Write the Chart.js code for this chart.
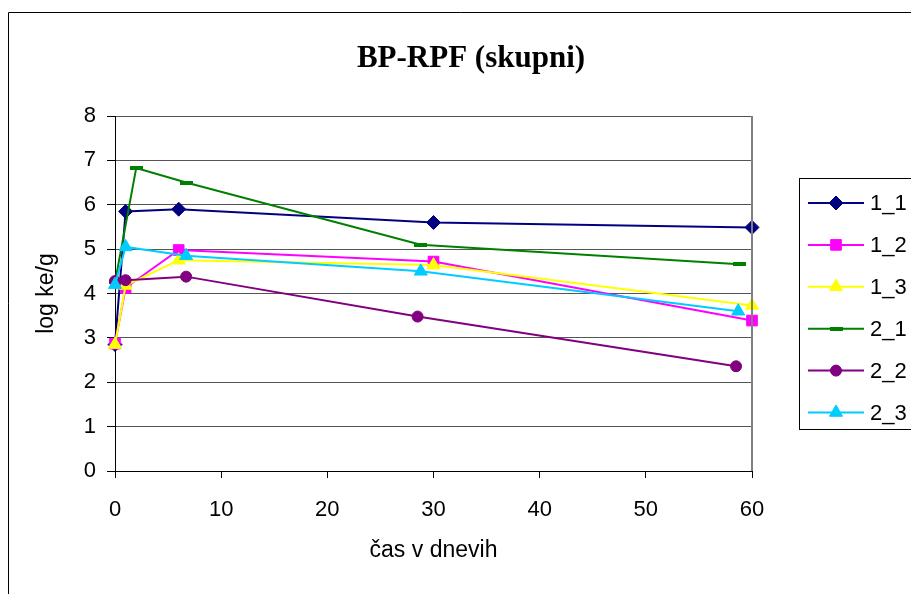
<!DOCTYPE html>
<html><head><meta charset="utf-8">
<script src="https://cdn.jsdelivr.net/npm/chart.js@4/dist/chart.umd.min.js"></script>
<style>html,body{margin:0;padding:0;background:#fff;overflow:hidden}#wrap{width:911px;height:594px;position:relative}</style>
</head><body><div id="wrap"><canvas id="c" width="911" height="594"></canvas></div>
<script>
// ---- data ----
const chartTitle = 'BP-RPF (skupni)';
const xAxisTitle = 'čas v dnevih';
const yAxisTitle = 'log ke/g';
const seriesNames = ['1_1', '1_2', '1_3', '2_1', '2_2', '2_3'];
const days_1_1 = [0, 1, 6, 30, 60];
const days_1_2 = [0, 1, 6, 30, 60];
const days_1_3 = [0, 1, 6, 30, 60];
const days_2_1 = [0, 2, 6.7, 28.8, 58.8];
const days_2_2 = [0, 1, 6.7, 28.5, 58.5];
const days_2_3 = [0, 1, 6.7, 28.8, 58.7];
const vals_1_1 = [2.85, 5.85, 5.9, 5.6, 5.49];
const vals_1_2 = [2.87, 4.13, 4.98, 4.72, 3.39];
const vals_1_3 = [2.85, 4.18, 4.75, 4.64, 3.73];
const vals_2_1 = [4.25, 6.83, 6.5, 5.1, 4.66];
const vals_2_2 = [4.28, 4.3, 4.38, 3.48, 2.36];
const vals_2_3 = [4.2, 5.05, 4.85, 4.5, 3.6];
const xMin = 0, xMax = 60, xStep = 10;
const yMin = 0, yMax = 8, yStep = 1;

// ---- styles ----
const FONT = '"Liberation Sans", Arial, sans-serif';
function dashMarker(color) {
  const c = document.createElement('canvas');
  c.width = 13; c.height = 4;
  const x = c.getContext('2d');
  x.fillStyle = color; x.fillRect(0, 0, 13, 4);
  return c;
}
const seriesDays = [days_1_1, days_1_2, days_1_3, days_2_1, days_2_2, days_2_3];
const seriesVals = [vals_1_1, vals_1_2, vals_1_3, vals_2_1, vals_2_2, vals_2_3];
const styles = [
  { color: '#000080', pointStyle: 'rectRot', radius: 7 },
  { color: '#FF00FF', pointStyle: 'rect', radius: 7.5 },
  { color: '#FFFF00', pointStyle: 'triangle', radius: 7.5 },
  { color: '#008000', pointStyle: dashMarker('#008000'), radius: 6 },
  { color: '#800080', pointStyle: 'circle', radius: 5.5 },
  { color: '#00CCFF', pointStyle: 'triangle', radius: 7.5 }
];

const datasets = seriesNames.map((name, i) => ({
  label: name,
  data: seriesDays[i].map((d, j) => ({ x: d, y: seriesVals[i][j] })),
  borderColor: styles[i].color,
  backgroundColor: styles[i].color,
  pointBackgroundColor: styles[i].color,
  pointBorderColor: styles[i].color,
  pointStyle: styles[i].pointStyle,
  pointRadius: styles[i].radius,
  pointHoverRadius: styles[i].radius,
  pointBorderWidth: 1,
  borderWidth: 2,
  tension: 0,
  clip: false,
  order: seriesNames.length - i
}));

const framePlugin = {
  id: 'frame',
  beforeDraw(chart) {
    const ctx = chart.ctx;
    ctx.save();
    ctx.fillStyle = '#fff';
    ctx.fillRect(0, 0, chart.width, chart.height);
    ctx.strokeStyle = '#000';
    ctx.lineWidth = 1;
    ctx.beginPath();
    ctx.moveTo(8.5, chart.height + 2);
    ctx.lineTo(8.5, 12.5);
    ctx.lineTo(chart.width + 2, 12.5);
    ctx.stroke();
    ctx.restore();
  },
  afterDraw(chart) {
    const ctx = chart.ctx;
    const a = chart.chartArea;
    ctx.save();
    // plot area right border
    ctx.strokeStyle = '#808080';
    ctx.lineWidth = 2;
    ctx.beginPath();
    ctx.moveTo(a.right, a.top);
    ctx.lineTo(a.right, a.bottom);
    ctx.stroke();
    // title
    ctx.fillStyle = '#000';
    ctx.font = 'bold 31px "Liberation Serif", "Times New Roman", serif';
    ctx.textAlign = 'center';
    ctx.textBaseline = 'alphabetic';
    ctx.fillText(chartTitle, 471, 67);
    // legend
    ctx.strokeStyle = '#000';
    ctx.lineWidth = 1;
    ctx.strokeRect(799.5, 178.5, 200, 251);
    chart.data.datasets.forEach((ds, i) => {
      const y = 203 + i * 41.9;
      ctx.strokeStyle = ds.borderColor;
      ctx.lineWidth = 2;
      ctx.beginPath();
      ctx.moveTo(808, y);
      ctx.lineTo(864, y);
      ctx.stroke();
      ctx.fillStyle = ds.pointBackgroundColor;
      ctx.strokeStyle = ds.pointBorderColor;
      ctx.lineWidth = 1;
      Chart.helpers.drawPoint(ctx, { pointStyle: ds.pointStyle, radius: ds.pointRadius, rotation: 0, borderWidth: 1 }, 836, y);
      ctx.fillStyle = '#000';
      ctx.font = '22px ' + FONT;
      ctx.textAlign = 'left';
      ctx.textBaseline = 'middle';
      ctx.fillText(ds.label, 870, y + 1);
    });
    ctx.restore();
  }
};

Chart.defaults.color = '#000';
Chart.defaults.font.family = FONT;

new Chart(document.getElementById('c'), {
  type: 'line',
  data: { datasets },
  options: {
    responsive: false,
    animation: false,
    devicePixelRatio: 1,
    layout: { padding: { top: 116, right: 159, bottom: 20, left: 33 } },
    plugins: { legend: { display: false }, title: { display: false }, tooltip: { enabled: false } },
    scales: {
      x: {
        type: 'linear',
        min: xMin, max: xMax,
        ticks: { stepSize: xStep, padding: 19, font: { size: 22 }, color: '#000', maxRotation: 0 },
        grid: { drawOnChartArea: false, drawTicks: true, tickLength: 7, tickColor: '#000' },
        border: { color: '#000', width: 1 },
        title: { display: true, text: xAxisTitle, font: { size: 23 }, color: '#000', padding: { top: 0, bottom: 10 } },
        afterFit(s) { s.height = 103; }
      },
      y: {
        type: 'linear',
        min: yMin, max: yMax,
        ticks: { stepSize: yStep, padding: 11, font: { size: 22 }, color: '#000' },
        grid: { color: '#555', lineWidth: 1, tickLength: 8, tickColor: '#000' },
        border: { color: '#000', width: 1 },
        title: { display: true, text: yAxisTitle, font: { size: 23 }, color: '#000', padding: { top: 0, bottom: 0 } },
        afterFit(s) { s.width = 82; }
      }
    }
  },
  plugins: [framePlugin]
});
</script>
</body></html>
